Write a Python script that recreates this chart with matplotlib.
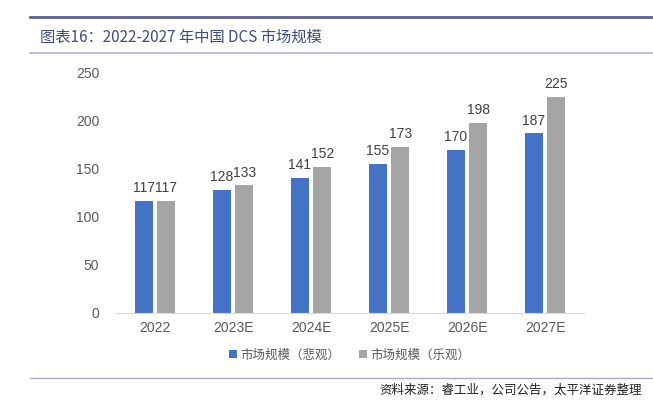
import matplotlib
matplotlib.use("Agg")
from matplotlib import pyplot as plt
from matplotlib.lines import Line2D
import numpy as np

plt.rcParams['font.family'] = ['Liberation Sans', 'Noto Sans CJK SC']

years = ["2022", "2023E", "2024E", "2025E", "2026E", "2027E"]
pessimistic = [117, 128, 141, 155, 170, 187]
optimistic = [117, 133, 152, 173, 198, 225]
y_ticks = [0, 50, 100, 150, 200, 250]

fig = plt.figure(figsize=(6.53, 4.05), dpi=100)

# header/footer rules
fig.add_artist(Line2D([30/653, 1], [1-17/405, 1-17/405], color="#5B6095", lw=2))
fig.add_artist(Line2D([30/653, 1], [1-53/405, 1-53/405], color="#B4B4D2", lw=1.2))
fig.add_artist(Line2D([30/653, 1], [1-378/405, 1-378/405], color="#A8A8C8", lw=1))

fig.text(40/653, 1-37/405, "图表16：2022-2027 年中国 DCS 市场规模", fontsize=11,
         color="#3E4C7C", va="center", ha="left",
         family=['Noto Sans CJK SC', 'DejaVu Sans'], fontweight="medium")
fig.text(642/653, 1-390/405, "资料来源：睿工业，公司公告，太平洋证券整理", fontsize=9,
         color="#222222", va="center", ha="right",
         family=['Noto Sans CJK SC', 'DejaVu Sans'])

ax = fig.add_axes([116/653, 1-313/405, 468/653, 240/405])
x = np.arange(len(years))
w = 0.227
off = 0.145
b1 = ax.bar(x - off, pessimistic, w, color="#4472C4", label="市场规模（悲观）")
b2 = ax.bar(x + off, optimistic, w, color="#A5A5A5", label="市场规模（乐观）")
for bars, vals in ((b1, pessimistic), (b2, optimistic)):
    for r, v in zip(bars, vals):
        ax.text(r.get_x() + r.get_width()/2, v + 6, str(v), ha="center", va="bottom",
                fontsize=10, color="#404040")

ax.set_xlim(-0.5, len(years) - 0.5)
ax.set_ylim(0, 250)
ax.set_yticks(y_ticks)
ax.set_xticks(x)
ax.set_xticklabels(years)
ax.tick_params(axis="both", length=0, labelsize=10, colors="#595959")
ax.tick_params(axis="y", pad=12)
ax.tick_params(axis="x", pad=6)
for s in ("top", "right", "left"):
    ax.spines[s].set_visible(False)
ax.spines["bottom"].set_color("#D9D9D9")

ax.legend(loc="upper center", bbox_to_anchor=(0.5, -0.1), ncol=2, frameon=False,
          handlelength=0.6, handleheight=0.6, handletextpad=0.3,
          columnspacing=1.5, labelcolor="#595959",
          prop={'family': ['Noto Sans CJK SC', 'DejaVu Sans'], 'size': 9})

fig.savefig("out.png", dpi=100)
